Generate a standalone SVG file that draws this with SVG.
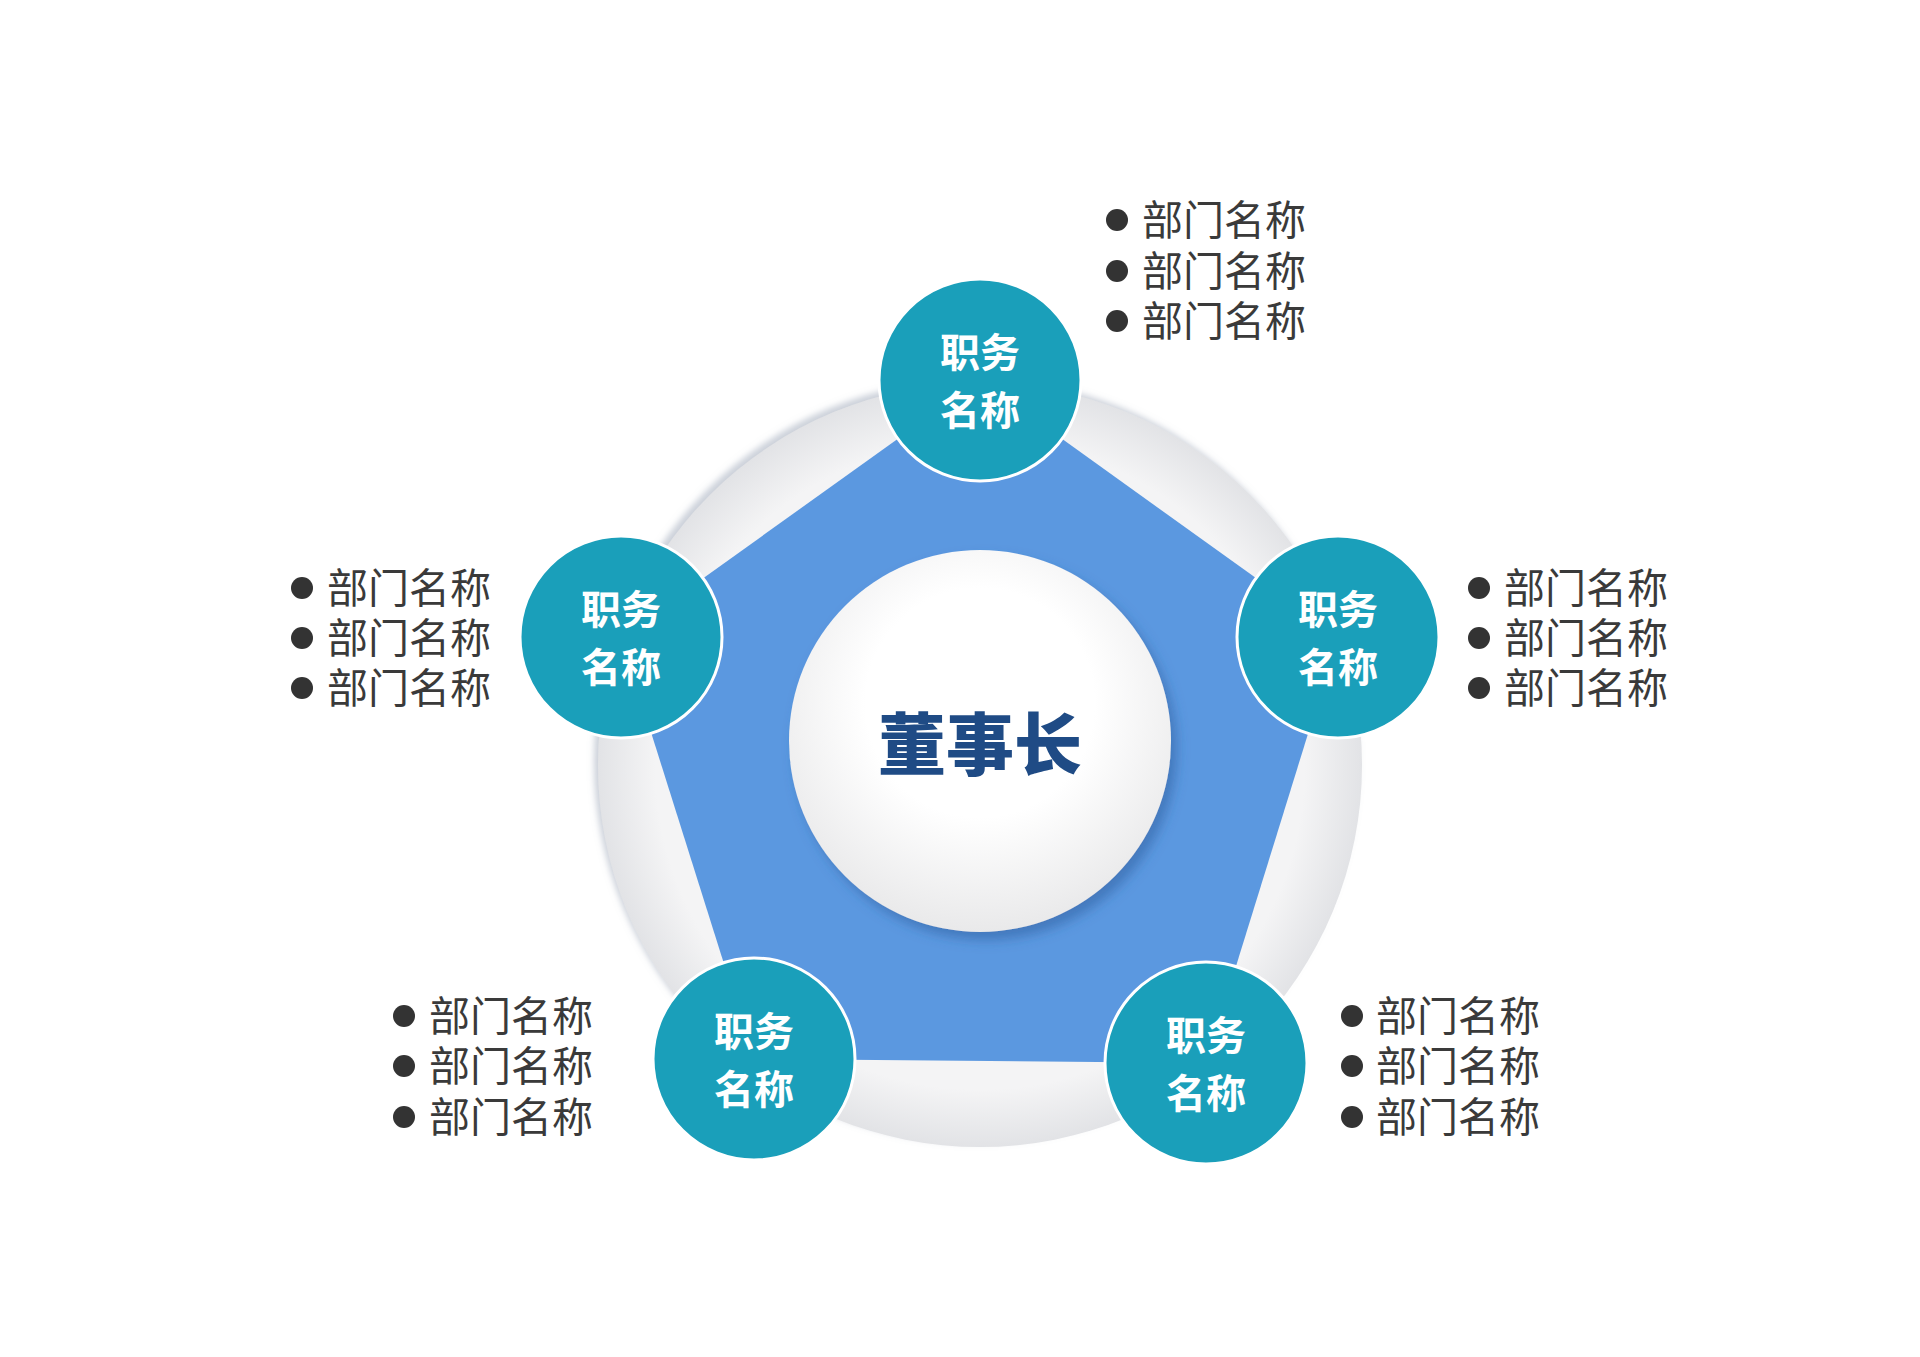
<svg xmlns="http://www.w3.org/2000/svg" width="1920" height="1357" viewBox="0 0 1920 1357">
<defs>
<radialGradient id="ring" cx="0.5" cy="0.5" r="0.5"><stop offset="0.85" stop-color="#f4f4f5"/><stop offset="1" stop-color="#e2e3e6"/></radialGradient>
<radialGradient id="core" cx="0.5" cy="0.4" r="0.6"><stop offset="0.5" stop-color="#ffffff"/><stop offset="1" stop-color="#e9e9ea"/></radialGradient>
<filter id="sh" x="-20%" y="-20%" width="140%" height="140%"><feDropShadow dx="6" dy="8" stdDeviation="6" flood-color="#2a5a9a" flood-opacity="0.5"/></filter>
<filter id="rs" x="-10%" y="-10%" width="120%" height="120%"><feDropShadow dx="-4" dy="-4" stdDeviation="3" flood-color="#9aa3b5" flood-opacity="0.5"/></filter>
</defs>
<style>
.node{fill:#1a9fba;stroke:#ffffff;stroke-width:3}
.nt{font-family:"Noto Sans CJK SC",sans-serif;font-weight:bold;font-size:40px;fill:#ffffff;text-anchor:middle}
.lt{font-family:"Noto Sans CJK SC",sans-serif;font-size:41px;fill:#3a3a3a}
.dot{fill:#333333}
</style>
<rect width="1920" height="1357" fill="#ffffff"/>
<circle cx="980" cy="765" r="382" fill="url(#ring)" filter="url(#rs)"/>
<g id="connectors">
<polygon points="980,380 1338,637 1206,1063 754,1059 621,637" fill="#5b98e0"/>
</g>
<g id="center">
<circle cx="980" cy="741" r="191" fill="url(#core)" filter="url(#sh)"/>
<text x="980" y="770" font-family="'Noto Sans CJK SC',sans-serif" font-weight="900" font-size="68" fill="#1f4b85" text-anchor="middle">董事长</text>
</g>
<g id="n1"><circle class="node" cx="980" cy="380" r="101"/><text class="nt" x="980" y="367">职务</text><text class="nt" x="980" y="425">名称</text></g>
<g id="n2"><circle class="node" cx="1338" cy="637" r="101"/><text class="nt" x="1338" y="624">职务</text><text class="nt" x="1338" y="682">名称</text></g>
<g id="n3"><circle class="node" cx="621" cy="637" r="101"/><text class="nt" x="621" y="624">职务</text><text class="nt" x="621" y="682">名称</text></g>
<g id="n4"><circle class="node" cx="754" cy="1059" r="101"/><text class="nt" x="754" y="1046">职务</text><text class="nt" x="754" y="1104">名称</text></g>
<g id="n5"><circle class="node" cx="1206" cy="1063" r="101"/><text class="nt" x="1206" y="1050">职务</text><text class="nt" x="1206" y="1108">名称</text></g>
<g id="l1"><circle class="dot" cx="1117" cy="220" r="11"/><circle class="dot" cx="1117" cy="271" r="11"/><circle class="dot" cx="1117" cy="321" r="11"/>
<text class="lt" x="1142" y="235">部门名称</text><text class="lt" x="1142" y="286">部门名称</text><text class="lt" x="1142" y="336">部门名称</text></g>
<g id="l2"><circle class="dot" cx="1479" cy="588" r="11"/><circle class="dot" cx="1479" cy="638" r="11"/><circle class="dot" cx="1479" cy="688" r="11"/>
<text class="lt" x="1504" y="603">部门名称</text><text class="lt" x="1504" y="653">部门名称</text><text class="lt" x="1504" y="703">部门名称</text></g>
<g id="l3"><circle class="dot" cx="302" cy="588" r="11"/><circle class="dot" cx="302" cy="638" r="11"/><circle class="dot" cx="302" cy="688" r="11"/>
<text class="lt" x="327" y="603">部门名称</text><text class="lt" x="327" y="653">部门名称</text><text class="lt" x="327" y="703">部门名称</text></g>
<g id="l4"><circle class="dot" cx="404" cy="1016" r="11"/><circle class="dot" cx="404" cy="1066" r="11"/><circle class="dot" cx="404" cy="1117" r="11"/>
<text class="lt" x="429" y="1031">部门名称</text><text class="lt" x="429" y="1081">部门名称</text><text class="lt" x="429" y="1132">部门名称</text></g>
<g id="l5"><circle class="dot" cx="1352" cy="1016" r="11"/><circle class="dot" cx="1352" cy="1066" r="11"/><circle class="dot" cx="1352" cy="1117" r="11"/>
<text class="lt" x="1376" y="1031">部门名称</text><text class="lt" x="1376" y="1081">部门名称</text><text class="lt" x="1376" y="1132">部门名称</text></g>
</svg>
